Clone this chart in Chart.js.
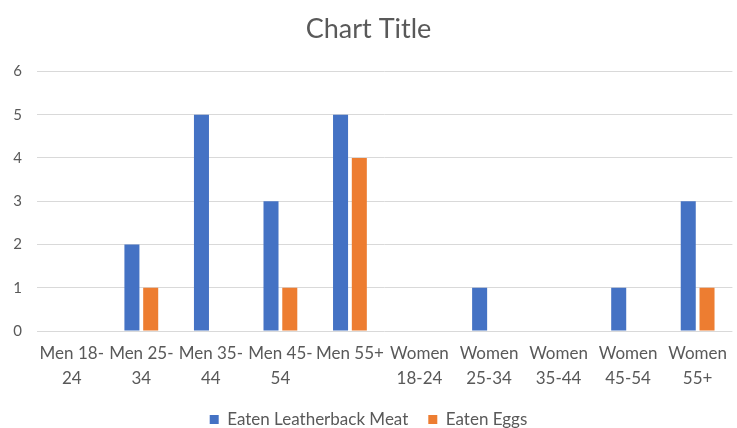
<!DOCTYPE html>
<html>
<head>
<meta charset="utf-8">
<script src="https://cdn.jsdelivr.net/npm/chart.js@4/dist/chart.umd.min.js"></script>
<style>
  html, body { margin: 0; padding: 0; background: #fff; }
  #wrap { width: 737px; height: 428px; }
</style>
</head>
<body>
<div id="wrap"><canvas id="chart"></canvas></div>
<script>
// categories (wrapped the way the picture shows them)
const categories = [
    ['Men 18-', '24'], ['Men 25-', '34'], ['Men 35-', '44'], ['Men 45-', '54'], 'Men 55+',
    ['Women', '18-24'], ['Women', '25-34'], ['Women', '35-44'], ['Women', '45-54'], ['Women', '55+']
];
const meatValues = [0, 2, 5, 3, 5, 0, 1, 0, 1, 3];
const eggValues = [0, 1, 0, 1, 4, 0, 0, 0, 0, 1];
const yTicks = [0, 1, 2, 3, 4, 5, 6];

const textColor = '#595959';
const fontFamily = 'Lato, "Open Sans", sans-serif';

const ctx = document.getElementById('chart').getContext('2d');
new Chart(ctx, {
    type: 'bar',
    data: {
        labels: categories,
        datasets: [{
            label: 'Eaten Leatherback Meat',
            data: meatValues,
            backgroundColor: '#4472C4',
        }, {
            label: 'Eaten Eggs',
            data: eggValues,
            backgroundColor: '#ED7D31',
        }],
    },
    options: {
        responsive: true,
        maintainAspectRatio: false,
        animation: false,
        // negative bottom pushes the legend row down near the edge like excel does
        layout: { padding: { left: 0, right: 0, top: 0, bottom: -10 } },
        categoryPercentage: 0.54,
        barPercentage: 0.8,
        scales: {
            x: {
                // legend padding is bigger (for the gap between items), give that space back here
                afterFit: axis => { axis.height -= 10; },
                grid: { display: false, drawTicks: false },
                border: { display: false },
                ticks: {
                    color: textColor,
                    font: { family: fontFamily, size: 17, lineHeight: 1.47 },
                    maxRotation: 0,
                    autoSkip: false,
                    padding: 10,
                },
            },
            y: {
                min: 0,
                max: yTicks[yTicks.length - 1],
                afterBuildTicks: axis => { axis.ticks = yTicks.map(v => ({ value: v })); },
                afterFit: axis => { axis.width = 37; },
                grid: { color: '#D9D9D9', drawTicks: false },
                border: { display: false },
                ticks: {
                    color: textColor,
                    font: { family: fontFamily, size: 15 },
                    padding: 15,
                },
            },
        },
        plugins: {
            title: {
                display: true,
                text: 'Chart Title',
                color: textColor,
                font: { family: fontFamily, size: 27, weight: 'normal' },
                padding: { top: 13, bottom: 26 },
            },
            legend: {
                position: 'bottom',
                labels: {
                    color: textColor,
                    font: { family: fontFamily, size: 17 },
                    boxWidth: 9,
                    boxHeight: 9,
                    padding: 20,
                },
            },
            tooltip: { enabled: false },
        },
    },
});
</script>
</body>
</html>
